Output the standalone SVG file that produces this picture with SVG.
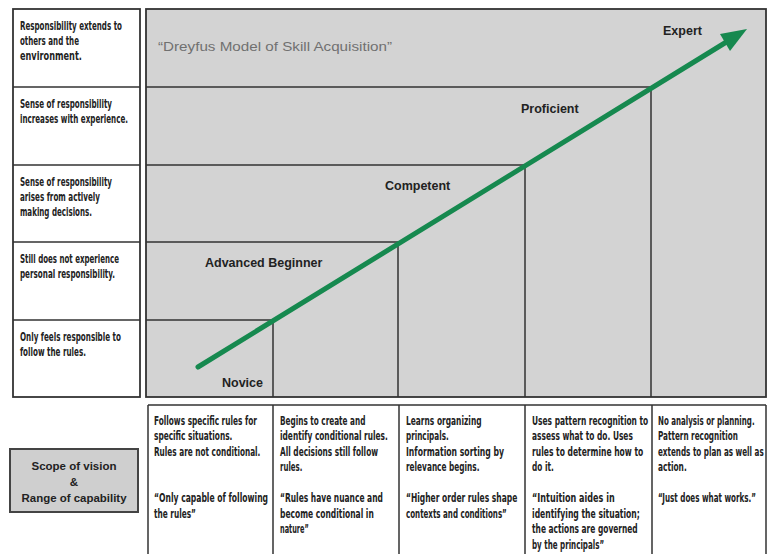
<svg xmlns="http://www.w3.org/2000/svg" width="769" height="554" viewBox="0 0 769 554">
<style>
.cond{font-family:"DejaVu Sans Condensed","DejaVu Sans",sans-serif;font-stretch:condensed;font-weight:bold;font-size:11.5px;fill:#222}
.condb{font-family:"DejaVu Sans Condensed","DejaVu Sans",sans-serif;font-stretch:condensed;font-weight:bold;font-size:12.5px;fill:#222}
.stage{font-family:"Liberation Sans",Arial,sans-serif;font-weight:bold;font-size:12.5px;fill:#222}
.title{font-family:"Liberation Sans",Arial,sans-serif;font-size:12.5px;fill:#707070}
.leg{font-family:"Liberation Sans",Arial,sans-serif;font-weight:bold;font-size:11.5px;fill:#222}
.ln{stroke:#333;stroke-width:1.5;fill:none}
</style>
<rect width="769" height="554" fill="#fff"/>
<g id="left-column">
<rect x="13" y="9" width="127" height="388" fill="#fff" stroke="#333" stroke-width="1.8"/>
<path class="ln" d="M13 87H140M13 165H140M13 242H140M13 320H140"/>
<text class="cond" transform="scale(0.76,1)"><tspan x="26.3" y="30" textLength="134.2" lengthAdjust="spacingAndGlyphs">Responsibility extends to</tspan><tspan x="26.3" y="45" textLength="77.6" lengthAdjust="spacingAndGlyphs">others and the</tspan><tspan x="26.3" y="60" textLength="81.6" lengthAdjust="spacingAndGlyphs">environment.</tspan></text>
<text class="cond" transform="scale(0.76,1)"><tspan x="26.3" y="108" textLength="121.1" lengthAdjust="spacingAndGlyphs">Sense of responsibility</tspan><tspan x="26.3" y="123" textLength="142.1" lengthAdjust="spacingAndGlyphs">increases with experience.</tspan></text>
<text class="cond" transform="scale(0.76,1)"><tspan x="26.3" y="186" textLength="121.1" lengthAdjust="spacingAndGlyphs">Sense of responsibility</tspan><tspan x="26.3" y="201" textLength="105.3" lengthAdjust="spacingAndGlyphs">arises from actively</tspan><tspan x="26.3" y="216" textLength="94.7" lengthAdjust="spacingAndGlyphs">making decisions.</tspan></text>
<text class="cond" transform="scale(0.76,1)"><tspan x="26.3" y="263" textLength="130.3" lengthAdjust="spacingAndGlyphs">Still does not experience</tspan><tspan x="26.3" y="278" textLength="125" lengthAdjust="spacingAndGlyphs">personal responsibility.</tspan></text>
<text class="cond" transform="scale(0.76,1)"><tspan x="26.3" y="341" textLength="132.9" lengthAdjust="spacingAndGlyphs">Only feels responsible to</tspan><tspan x="26.3" y="356" textLength="86.8" lengthAdjust="spacingAndGlyphs">follow the rules.</tspan></text>
</g>
<g id="chart">
<rect x="146" y="9" width="620" height="388" fill="#d3d3d3" stroke="#333" stroke-width="1.8"/>
<text class="title" x="158" y="51" textLength="234" lengthAdjust="spacingAndGlyphs">“Dreyfus Model of Skill Acquisition”</text>
</g>
<g id="stage-novice">
<path class="ln" d="M146 320H273V397"/>
<text class="stage" x="222" y="386.5">Novice</text>
</g>
<g id="stage-advanced-beginner">
<path class="ln" d="M146 242H398V397"/>
<text class="stage" x="205" y="266.5">Advanced Beginner</text>
</g>
<g id="stage-competent">
<path class="ln" d="M146 165H525V397"/>
<text class="stage" x="385" y="189.5">Competent</text>
</g>
<g id="stage-proficient">
<path class="ln" d="M146 87H651V397"/>
<text class="stage" x="521" y="112.5">Proficient</text>
</g>
<g id="stage-expert">
<text class="stage" x="663" y="35">Expert</text>
</g>
<g id="connectors">
<line x1="198" y1="367" x2="728" y2="41" stroke="#16894f" stroke-width="5" stroke-linecap="round"/>
<polygon points="747,29 730,51 720,34" fill="#16894f"/>
</g>
<g id="legend">
<rect x="10" y="449" width="128" height="63" fill="#cfcfcf" stroke="#444" stroke-width="2"/>
<text class="leg" text-anchor="middle"><tspan x="74" y="470">Scope of vision</tspan><tspan x="74" y="486">&amp;</tspan><tspan x="74" y="502" textLength="105" lengthAdjust="spacingAndGlyphs">Range of capability</tspan></text>
</g>
<g id="bottom-cells">
<path class="ln" d="M148 405H766M148 405V554M273 405V554M399 405V554M525 405V554M652 405V554M766 405V554"/>
<text class="condb" transform="scale(0.65,1)"><tspan x="236.9" y="425" textLength="158.3" lengthAdjust="spacingAndGlyphs">Follows specific rules for</tspan><tspan x="236.9" y="440.5" textLength="120.6" lengthAdjust="spacingAndGlyphs">specific situations.</tspan><tspan x="236.9" y="456" textLength="163.7" lengthAdjust="spacingAndGlyphs">Rules are not conditional.</tspan><tspan x="236.9" y="502.5" textLength="175.5" lengthAdjust="spacingAndGlyphs">“Only capable of following</tspan><tspan x="236.9" y="518" textLength="64.6" lengthAdjust="spacingAndGlyphs">the rules”</tspan></text>
<text class="condb" transform="scale(0.65,1)"><tspan x="430.8" y="425" textLength="131.4" lengthAdjust="spacingAndGlyphs">Begins to create and</tspan><tspan x="430.8" y="440.5" textLength="165.8" lengthAdjust="spacingAndGlyphs">identify conditional rules.</tspan><tspan x="430.8" y="456" textLength="150.8" lengthAdjust="spacingAndGlyphs">All decisions still follow</tspan><tspan x="430.8" y="471.5" textLength="34.5" lengthAdjust="spacingAndGlyphs">rules.</tspan><tspan x="430.8" y="502.5" textLength="158.3" lengthAdjust="spacingAndGlyphs">“Rules have nuance and</tspan><tspan x="430.8" y="518" textLength="144.3" lengthAdjust="spacingAndGlyphs">become conditional in</tspan><tspan x="430.8" y="533.5" textLength="44.2" lengthAdjust="spacingAndGlyphs">nature”</tspan></text>
<text class="condb" transform="scale(0.65,1)"><tspan x="624.6" y="425" textLength="116.3" lengthAdjust="spacingAndGlyphs">Learns organizing</tspan><tspan x="624.6" y="440.5" textLength="65.7" lengthAdjust="spacingAndGlyphs">principals.</tspan><tspan x="624.6" y="456" textLength="150.8" lengthAdjust="spacingAndGlyphs">Information sorting by</tspan><tspan x="624.6" y="471.5" textLength="113.1" lengthAdjust="spacingAndGlyphs">relevance begins.</tspan><tspan x="624.6" y="502.5" textLength="171.2" lengthAdjust="spacingAndGlyphs">“Higher order rules shape</tspan><tspan x="624.6" y="518" textLength="155.1" lengthAdjust="spacingAndGlyphs">contexts and conditions”</tspan></text>
<text class="condb" transform="scale(0.65,1)"><tspan x="818.5" y="425" textLength="178.8" lengthAdjust="spacingAndGlyphs">Uses pattern recognition to</tspan><tspan x="818.5" y="440.5" textLength="155.1" lengthAdjust="spacingAndGlyphs">assess what to do. Uses</tspan><tspan x="818.5" y="456" textLength="171.2" lengthAdjust="spacingAndGlyphs">rules to determine how to</tspan><tspan x="818.5" y="471.5" textLength="33.4" lengthAdjust="spacingAndGlyphs">do it.</tspan><tspan x="818.5" y="502.5" textLength="127.1" lengthAdjust="spacingAndGlyphs">“Intuition aides in</tspan><tspan x="818.5" y="518" textLength="165.8" lengthAdjust="spacingAndGlyphs">identifying the situation;</tspan><tspan x="818.5" y="533.5" textLength="162.6" lengthAdjust="spacingAndGlyphs">the actions are governed</tspan><tspan x="818.5" y="549" textLength="110.9" lengthAdjust="spacingAndGlyphs">by the principals”</tspan></text>
<text class="condb" transform="scale(0.65,1)"><tspan x="1012.3" y="425" textLength="148.6" lengthAdjust="spacingAndGlyphs">No analysis or planning.</tspan><tspan x="1012.3" y="440.5" textLength="122.8" lengthAdjust="spacingAndGlyphs">Pattern recognition</tspan><tspan x="1012.3" y="456" textLength="162.6" lengthAdjust="spacingAndGlyphs">extends to plan as well as</tspan><tspan x="1012.3" y="471.5" textLength="44.2" lengthAdjust="spacingAndGlyphs">action.</tspan><tspan x="1012.3" y="502.5" textLength="150.8" lengthAdjust="spacingAndGlyphs">“Just does what works.”</tspan></text>
</g>
</svg>
